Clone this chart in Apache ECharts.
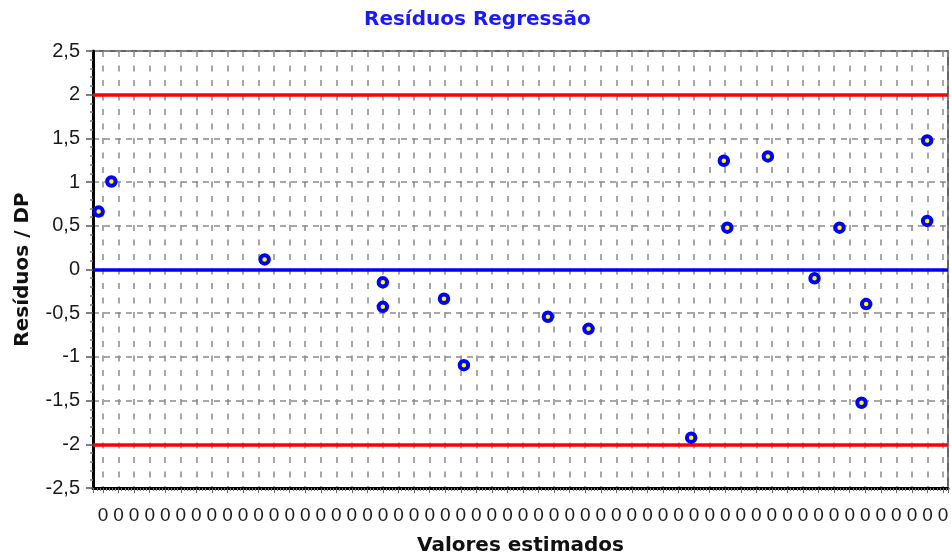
<!DOCTYPE html>
<html>
<head>
<meta charset="utf-8">
<script src="https://cdn.jsdelivr.net/npm/echarts@6/dist/echarts.min.js"></script>
<style>
html,body{margin:0;padding:0;background:#fff;}
#chart{width:951px;height:557px;}
</style>
</head>
<body>
<div id="chart"></div>
<script>
// Data (x in axis units of the "Valores estimados" axis, y = Resíduos / DP)
var titleText = 'Resíduos Regressão';
var xName = 'Valores estimados';
var yName = 'Resíduos / DP';
var xValues = [-0.28, 0.54, 10.39, 17.99, 17.99, 21.92, 23.2, 28.6, 31.21, 37.81, 39.91, 40.13, 42.74, 45.74, 47.35, 48.76, 49.06, 52.98, 52.98];
var yValues = [0.663, 1.007, 0.115, -0.147, -0.427, -0.335, -1.095, -0.541, -0.679, -1.924, 1.244, 0.479, 1.294, -0.101, 0.479, -1.525, -0.396, 1.477, 0.556];
var limitLines = [2, -2];
var zeroLine = [0];
var xMin = -0.643, xMax = 54.32;
var yMin = -2.5, yMax = 2.5, yStep = 0.5;

var points = xValues.map(function (x, i) { return [x, yValues[i]]; });

var chart = echarts.init(document.getElementById('chart'), null, {renderer: 'canvas'});
chart.setOption({
  animation: false,
  backgroundColor: '#ffffff',
  title: {
    text: titleText,
    left: 364, top: 10, padding: 0,
    textStyle: {fontFamily: 'DejaVu Sans', fontWeight: 'bold', fontSize: 20, color: '#1a1aff'}
  },
  grid: {left: 93, right: 3, top: 51, bottom: 69, show: true, borderColor: '#333', borderWidth: 1.5, outerBoundsMode: 'none', containLabel: false},
  xAxis: {
    type: 'value', min: xMin, max: xMax, splitNumber: 55, minInterval: 1, maxInterval: 1,
    name: xName, nameLocation: 'middle', nameGap: 48,
    nameTextStyle: {fontFamily: 'DejaVu Sans', fontWeight: 'bold', fontSize: 20, color: '#111'},
    axisLine: {show: true, onZero: false, lineStyle: {color: '#000', width: 3}},
    axisTick: {show: true, length: 5, lineStyle: {color: '#666', width: 1}},
    minorTick: {show: true, splitNumber: 5, length: 3, lineStyle: {color: '#777', width: 1}},
    axisLabel: {show: true, margin: 18, showMinLabel: false, showMaxLabel: false,
      fontFamily: 'Liberation Sans', fontSize: 19, color: '#1a1a1a',
      formatter: function () { return '0'; }},
    splitLine: {show: true, lineStyle: {color: '#8a8a8a', width: 1.5, type: [6, 8.5]}},
    minorSplitLine: {show: false}
  },
  yAxis: {
    type: 'value', min: yMin, max: yMax, interval: yStep,
    name: yName, nameLocation: 'middle', nameGap: 60, nameRotate: 90,
    nameTextStyle: {fontFamily: 'DejaVu Sans', fontWeight: 'bold', fontSize: 20, color: '#111'},
    axisLine: {show: true, onZero: false, lineStyle: {color: '#000', width: 3}},
    axisTick: {show: true, length: 7, lineStyle: {color: '#555', width: 1.5}},
    minorTick: {show: true, splitNumber: 5, length: 3, lineStyle: {color: '#777', width: 1.5}},
    axisLabel: {margin: 13, fontFamily: 'Liberation Sans', fontSize: 20, color: '#1a1a1a',
      formatter: function (v) { return String(Math.round(v * 10) / 10).replace('.', ','); }},
    splitLine: {show: true, lineStyle: {color: '#8a8a8a', width: 1.5, type: [6, 5]}}
  },
  series: [{
    type: 'scatter',
    data: points,
    symbol: 'circle',
    symbolSize: 8.5,
    itemStyle: {color: '#ffff00', borderColor: '#0000ff', borderWidth: 4, opacity: 1},
    z: 5,
    markLine: {
      silent: true, symbol: 'none', label: {show: false}, animation: false,
      data: limitLines.map(function (v) { return {yAxis: v, lineStyle: {color: '#ff0000', width: 3.5, type: 'solid'}}; })
        .concat(zeroLine.map(function (v) { return {yAxis: v, lineStyle: {color: '#0000ff', width: 3.5, type: 'solid'}}; }))
    }
  }]
});
</script>
</body>
</html>
